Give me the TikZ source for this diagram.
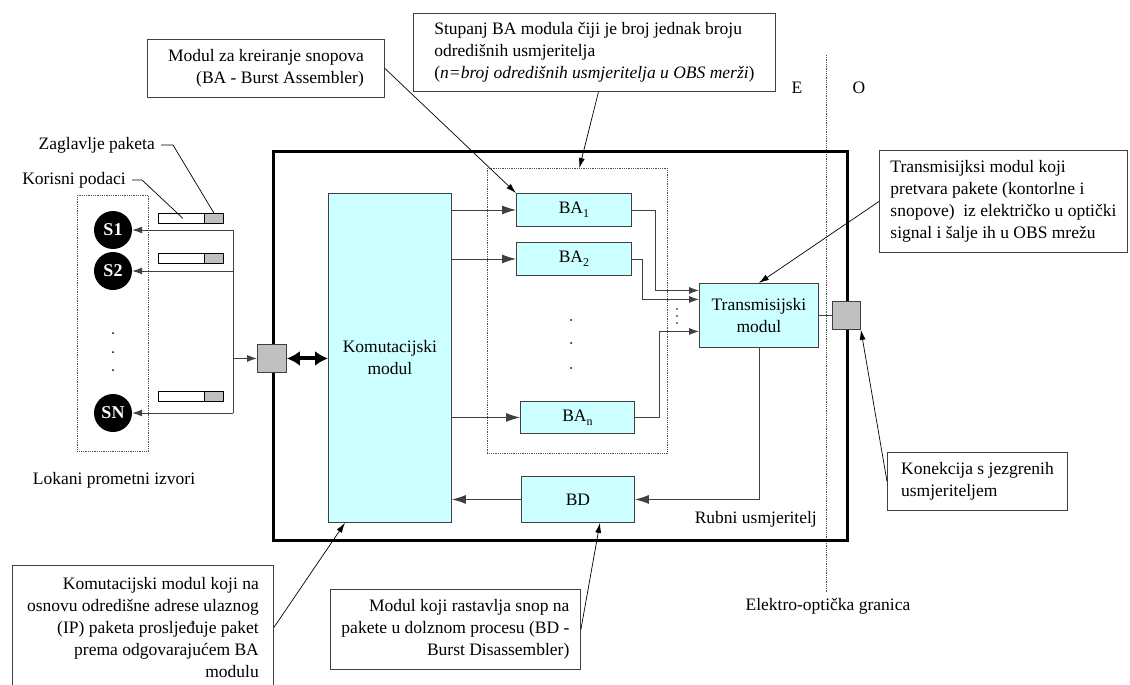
\documentclass[tikz,border=0pt]{standalone}
\usepackage{fontspec}
\setmainfont{Liberation Serif}
\usetikzlibrary{arrows.meta}
\definecolor{modfill}{HTML}{CCFFFF}
\definecolor{portgray}{HTML}{C0C0C0}
\definecolor{wirecol}{HTML}{404040}
\definecolor{dotcol}{HTML}{505050}
\newcommand{\sbs}[1]{\raisebox{-0.45ex}{\fontsize{12}{12}\selectfont #1}}

\begin{document}
\begin{tikzpicture}[x=1pt,y=-1pt,
  font=\fontsize{17.5}{22}\selectfont,
  module/.style={draw=wirecol, fill=modfill, line width=0.9pt, inner sep=0pt, anchor=north west},
  port/.style={draw=wirecol, fill=portgray, line width=0.9pt, inner sep=0pt, anchor=north west},
  note/.style={draw=wirecol, fill=white, line width=0.9pt, inner xsep=4pt, inner ysep=0pt, anchor=north west},
  group/.style={draw=dotcol, densely dotted, line width=0.8pt, inner sep=0pt, anchor=north west},
  link/.style={draw=wirecol, line width=0.9pt},
  arr/.style={link, -{Latex[length=10pt,width=7pt]}},
  bigarr/.style={link, -{Latex[length=14pt,width=9pt]}},
  lead/.style={draw=black, line width=0.7pt},
  leadarr/.style={lead, -{Latex[length=10pt,width=6pt]}},
  src/.style={circle, fill=black, minimum size=38pt, inner sep=0pt, text=white, font=\fontsize{18}{18}\selectfont\bfseries},
  pkt/.style={draw=black, line width=0.8pt, fill=white, minimum width=65pt, minimum height=10pt, inner sep=0pt, anchor=north west},
  hdr/.style={draw=black, line width=0.8pt, fill=portgray, minimum width=19pt, minimum height=10pt, inner sep=0pt, anchor=north west},
  lbl/.style={inner sep=0pt},
]
\useasboundingbox (0,0) rectangle (1130,685);
\clip (0,0) rectangle (1130,685);

% electro-optical boundary
\draw[draw=dotcol, densely dotted, line width=0.8pt] (826,55) -- (826,592);
\node[lbl] (lblE) at (797,88) {E};
\node[lbl] (lblO) at (859,88) {O};
\node[lbl] (lblEO) at (828,606) {Elektro-optička granica};

% edge router frame
\node[draw=black, line width=2.5pt, minimum width=574pt, minimum height=389pt, inner sep=0pt, anchor=north west] (router) at (272,150) {};
\node[lbl, anchor=east] (lblRouter) at (817,519) {Rubni usmjeritelj};

% modules
\node[module, minimum width=123pt, minimum height=329pt, align=center] (komut) at (328,193) {Komutacijski\\modul};
\node[group, minimum width=180pt, minimum height=285pt] (grp) at (487,168) {};
\node[module, minimum width=115pt, minimum height=33pt] (ba1) at (516,193) {BA\sbs{1}};
\node[module, minimum width=115pt, minimum height=33pt] (ba2) at (516,242) {BA\sbs{2}};
\node[module, minimum width=114pt, minimum height=32pt] (ban) at (520,401) {BA\sbs{n}};
\node[module, minimum width=113pt, minimum height=46pt] (bd) at (521,476) {BD};
\node[module, minimum width=119pt, minimum height=64pt, align=center] (trans) at (699,283) {Transmisijski\\modul};
\node[port, minimum width=29pt, minimum height=28pt] (portL) at (257,344) {};
\node[port, minimum width=28pt, minimum height=28pt] (portR) at (832,301) {};

% BA ellipsis
\foreach \yy in {320,343,368} \fill (571,\yy) circle (1pt);
\foreach \yy in {309,316,323} \fill (677,\yy) circle (0.9pt);

% internal wiring
\draw[bigarr] (komut.east |- ba1.west) -- (ba1.west);
\draw[bigarr] (komut.east |- ba2.west) -- (ba2.west);
\draw[bigarr] (komut.east |- ban.west) -- (ban.west);
\draw[arr] (ba1.east) -- ++(24,0) |- ([yshift=25pt]trans.west);
\draw[arr] (ba2.east) -- ++(11,0) |- ([yshift=16pt]trans.west);
\draw[arr] (ban.east) -- ++(25,0) |- ([yshift=-16pt]trans.west);
\draw[link] (trans.east) -- (portR.west);
\draw[bigarr] (trans.south) |- (bd.east);
\draw[bigarr] (bd.west) -- (komut.east |- bd.west);
\draw[line width=4pt, {Latex[length=13pt,width=15pt]}-{Latex[length=13pt,width=15pt]}] (portL.east) -- (komut.west |- portL.east);

% local traffic sources
\node[group, minimum width=71pt, minimum height=256pt] (srcgrp) at (77,195) {};
\node[src] (s1) at (113,230) {S1};
\node[src] (s2) at (113,271) {S2};
\node[src] (sn) at (113,413) {SN};
\foreach \yy in {333,352,370} \fill (113,\yy) circle (1pt);
\node[lbl] (lblSrc) at (114,480) {Lokani prometni izvori};

\node[pkt] (pkt1) at (158,213) {};
\node[hdr] (hdr1) at (204,213) {};
\node[pkt] (pkt2) at (158,253) {};
\node[hdr] (hdr2) at (204,253) {};
\node[pkt] (pktn) at (158,391) {};
\node[hdr] (hdrn) at (204,391) {};

\coordinate (bus1) at (233,230);
\coordinate (busN) at (233,413);
\draw[link] (bus1) -- (busN);
\draw[arr] (bus1) -- (s1.east);
\draw[arr] (bus1 |- s2) -- (s2.east);
\draw[arr] (busN) -- (sn.east);
\draw[arr] (bus1 |- portL) -- (portL.west);

\node[lbl, anchor=east] (lblHdr) at (155,145) {Zaglavlje paketa};
\node[lbl, anchor=east] (lblData) at (126,180) {Korisni podaci};
\draw[lead] (lblHdr.east) ++(6,0) -- ++(12,0) -- (hdr1.north);
\draw[lead] (lblData.east) ++(6,0) -- ++(10,0) -- ([xshift=-8pt]pkt1.center);

% callouts
\node[note, minimum width=237pt, minimum height=58pt, align=right] (noteBA) at (147,39)
  {Modul za kreiranje snopova\\(BA - Burst Assembler)};
\node[note, minimum width=362pt, minimum height=78pt, align=left] (noteStage) at (413,13)
  {Stupanj BA modula čiji je broj jednak broju\\odredišnih usmjeritelja\\(\textit{n=broj odredišnih usmjeritelja u OBS merži})};
\node[note, minimum width=248pt, minimum height=102pt, align=left] (noteTr) at (879,150)
  {Transmisijksi modul koji\\pretvara pakete (kontorlne i\\snopove)\ \ iz električko u optički\\signal i šalje ih u OBS mrežu};
\node[note, minimum width=180pt, minimum height=58pt, align=left] (noteCon) at (887,452)
  {Konekcija s jezgrenih\\usmjeriteljem};
\node[note, minimum width=261pt, minimum height=124pt, align=right] (noteKm) at (12,565)
  {Komutacijski modul koji na\\osnovu odredišne adrese ulaznog\\(IP) paketa prosljeđuje paket\\prema odgovarajućem BA\\modulu};
\node[note, minimum width=250pt, minimum height=80pt, align=right] (noteBD) at (330,589)
  {Modul koji rastavlja snop na\\pakete u dolznom procesu (BD -\\Burst Disassembler)};

\draw[leadarr] (noteBA.east) -- (ba1.north west);
\draw[leadarr] ([xshift=4pt]noteStage.south) -- ([xshift=2pt]grp.north);
\draw[leadarr] (noteTr.west) -- (trans.north);
\draw[leadarr] (noteCon.west) -- (portR.south east);
\draw[leadarr] (noteKm.east) -- ([xshift=-45pt]komut.south);
\draw[leadarr] (noteBD.east) -- ([xshift=22pt]bd.south);
\end{tikzpicture}
\end{document}
